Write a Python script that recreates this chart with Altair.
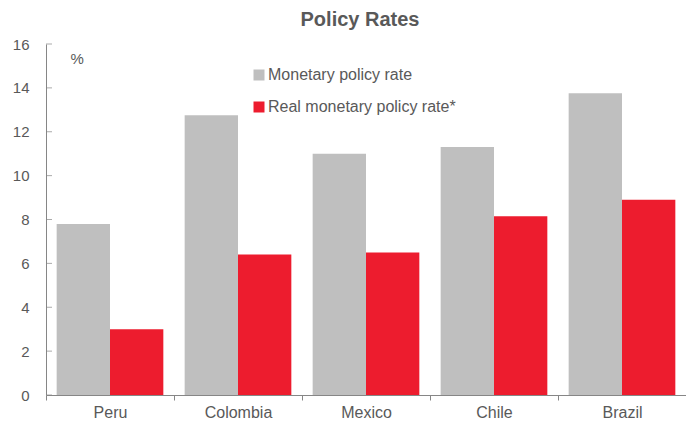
import altair as alt
import pandas as pd

countries = ["Peru", "Colombia", "Mexico", "Chile", "Brazil"]
monetary = [7.8, 12.75, 11.0, 11.3, 13.75]
real = [3.0, 6.4, 6.5, 8.15, 8.9]
series = ["Monetary policy rate", "Real monetary policy rate*"]
colors = ["#BFBFBF", "#ED1C2E"]
yticks = [0, 2, 4, 6, 8, 10, 12, 14, 16]

rows = []
for c, m, r in zip(countries, monetary, real):
    rows.append({"country": c, "series": series[0], "value": m})
    rows.append({"country": c, "series": series[1], "value": r})
df = pd.DataFrame(rows)
tick_df = pd.DataFrame({"v": yticks})

AX = "#868686"
TXT = "#595959"

bars = alt.Chart(df).mark_bar().encode(
    x=alt.X("country:N", sort=countries,
            scale=alt.Scale(paddingInner=0, paddingOuter=0),
            axis=alt.Axis(title=None, labelAngle=0, tickBand="extent", tickSize=5,
                          tickColor=AX, domainColor=AX, labelColor=TXT,
                          labelFontSize=16, labelBaseline="alphabetic", labelPadding=17)),
    xOffset=alt.XOffset("series:N", sort=series,
                        scale=alt.Scale(paddingInner=0, paddingOuter=0.2)),
    y=alt.Y("value:Q", scale=alt.Scale(domain=[0, 16]),
            axis=alt.Axis(values=yticks, ticks=False, grid=False, domainColor=AX,
                          labelColor=TXT, labelFontSize=15, labelPadding=17,
                          title="%", titleAngle=0, titleAlign="left", titleBaseline="top",
                          titleX=24, titleY=7, titleFontSize=15, titleFontWeight="normal",
                          titleColor=TXT)),
    color=alt.Color("series:N", scale=alt.Scale(domain=series, range=colors),
                    legend=alt.Legend(title=None, orient="none", legendX=205, legendY=23,
                                      symbolType="square", symbolSize=121,
                                      symbolStrokeWidth=0, labelFontSize=16,
                                      labelColor=TXT, labelOffset=1, rowPadding=16,
                                      labelLimit=0)),
)

ticks = alt.Chart(tick_df).mark_tick(color=AX, thickness=1, size=6, orient="horizontal").encode(
    y=alt.Y("v:Q"),
    x=alt.value(3),
)

chart = alt.layer(bars, ticks).properties(
    width=640, height=351,
    title=alt.Title("Policy Rates", fontSize=20, fontWeight="bold", color=TXT,
                    anchor="middle", frame="group", offset=7, dx=-6),
    padding={"left": 38, "top": 36, "right": 0, "bottom": 26},
    autosize=alt.AutoSizeParams(type="none"),
).configure(font="Liberation Sans", background="white").configure_view(stroke=None)

chart.save("out.html", embed_options={"renderer": "svg", "actions": False})
